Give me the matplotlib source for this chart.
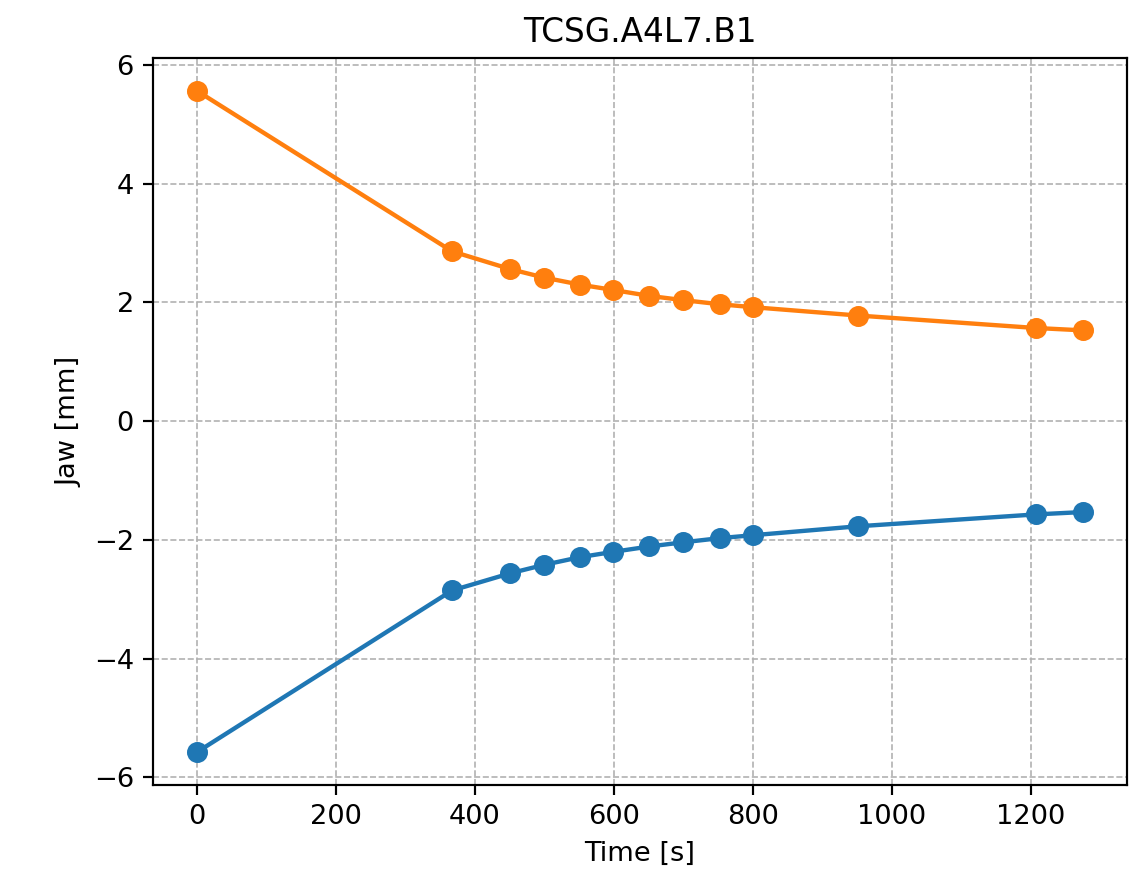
import matplotlib
matplotlib.use("Agg")
import matplotlib.pyplot as plt

time_s = [0, 367, 451, 499, 551, 599, 651, 699, 752, 800, 951, 1207, 1275]
jaw_left = [-5.57, -2.85, -2.56, -2.42, -2.29, -2.20, -2.11, -2.04, -1.97, -1.92, -1.77, -1.57, -1.53]
jaw_right = [5.56, 2.86, 2.56, 2.42, 2.30, 2.21, 2.11, 2.04, 1.97, 1.92, 1.78, 1.57, 1.53]

DPI = 196.5
fig = plt.figure(figsize=(1138 / DPI, 869 / DPI), dpi=DPI)
ax = fig.add_axes([153 / 1138, 1 - 785 / 869, (1127 - 153) / 1138, (785 - 58) / 869])

ax.plot(time_s, jaw_left, marker="o", color="C0", linewidth=1.6, markersize=6.7)
ax.plot(time_s, jaw_right, marker="o", color="C1", linewidth=1.6, markersize=6.7)
ax.grid(True, linestyle="--", linewidth=0.6, color="#b0b0b0")
ax.set_axisbelow(True)
ax.set_title("TCSG.A4L7.B1")
ax.set_xlabel("Time [s]")
ax.set_ylabel("Jaw [mm]")

fig.savefig("out.png", dpi=DPI)
